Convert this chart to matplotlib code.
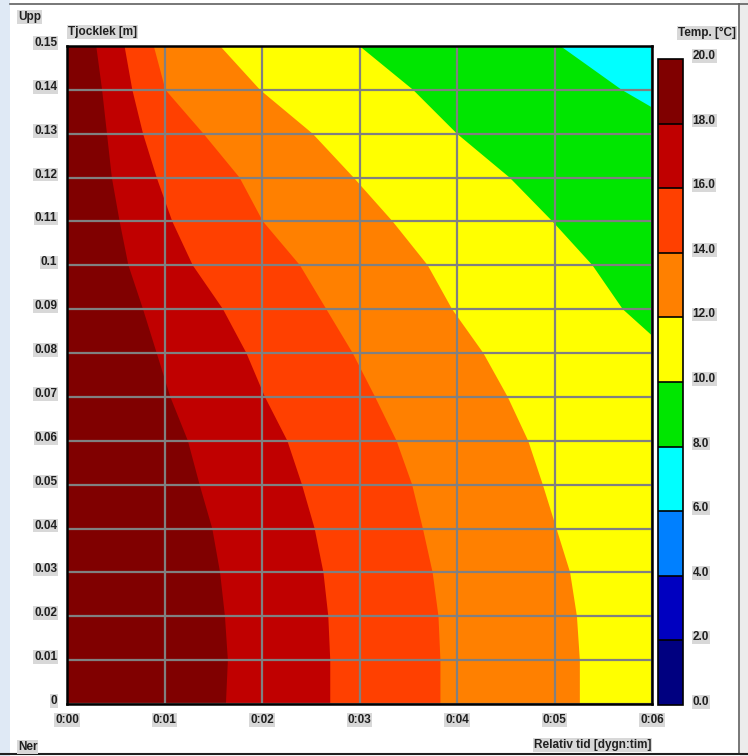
import matplotlib
matplotlib.use("Agg")
import matplotlib.pyplot as plt
import numpy as np
from matplotlib.colors import ListedColormap, BoundaryNorm
from matplotlib.colorbar import ColorbarBase
from matplotlib.patches import Rectangle
from matplotlib.lines import Line2D

# temperature classes of the colour scale, low to high
levels = [0, 2, 4, 6, 8, 10, 12, 14, 16, 18, 20]
colors = ['#000080', '#0000C0', '#0080FF', '#00FFFF', '#00E600',
          '#FFFF00', '#FF8000', '#FF4000', '#C00000', '#800000']

# thickness (m) where isotherms are read, top to bottom
depth = [0.15, 0.14, 0.13, 0.12, 0.11, 0.10, 0.09, 0.08,
         0.07, 0.06, 0.05, 0.04, 0.03, 0.02, 0.01, 0.0]

# isotherm positions in hours (time axis 0:00 - 0:06)
iso18 = [0.30, 0.36, 0.41, 0.46, 0.54, 0.63, 0.78, 0.92,
         1.06, 1.24, 1.36, 1.49, 1.57, 1.62, 1.65, 1.63]
iso16 = [0.59, 0.67, 0.78, 0.92, 1.08, 1.29, 1.60, 1.84,
         2.03, 2.26, 2.41, 2.54, 2.63, 2.68, 2.70, 2.70]
iso14 = [0.89, 1.01, 1.40, 1.77, 2.01, 2.39, 2.66, 2.93,
         3.16, 3.38, 3.54, 3.65, 3.75, 3.81, 3.83, 3.83]
iso12 = [1.57, 1.98, 2.52, 2.94, 3.34, 3.70, 3.95, 4.27,
         4.52, 4.73, 4.88, 5.02, 5.16, 5.23, 5.26, 5.26]
# these two leave the plot on the right edge
iso10_y = [0.15, 0.14, 0.13, 0.12, 0.11, 0.10, 0.09, 0.084]
iso10_x = [3.00, 3.55, 4.00, 4.54, 4.98, 5.39, 5.70, 6.00]
iso8_y = [0.15, 0.14, 0.136]
iso8_x = [5.06, 5.69, 6.00]

xticks = [0, 1, 2, 3, 4, 5, 6]
xlabels = ['0:00', '0:01', '0:02', '0:03', '0:04', '0:05', '0:06']
yticks = [0.0, 0.01, 0.02, 0.03, 0.04, 0.05, 0.06, 0.07,
          0.08, 0.09, 0.10, 0.11, 0.12, 0.13, 0.14, 0.15]
ylabels = ['0', '0.01', '0.02', '0.03', '0.04', '0.05', '0.06', '0.07',
           '0.08', '0.09', '0.1', '0.11', '0.12', '0.13', '0.14', '0.15']

plt.rcParams['font.family'] = ['Liberation Sans', 'DejaVu Sans']
W, H = 748, 756
fig = plt.figure(figsize=(W / 100, H / 100), dpi=100)

cmap = ListedColormap(colors)
norm = BoundaryNorm(levels, cmap.N)

ax = fig.add_axes([67 / W, 1 - 704 / H, 585 / W, 658 / H])
ax.set_xlim(0, 6)
ax.set_ylim(0, 0.15)
ax.set_facecolor(cmap(norm(19)))

# paint "warmer than" regions left to right, each over the previous
isotherms = [(18, iso18, depth), (16, iso16, depth), (14, iso14, depth),
             (12, iso12, depth), (10, iso10_x, iso10_y), (8, iso8_x, iso8_y)]
for lev, xs, ys in isotherms:
    px = list(xs) + [6, 6]
    py = list(ys) + [ys[-1], 0.15]
    ax.fill(px, py, color=cmap(norm(lev - 1)), lw=0, zorder=1)

box = dict(facecolor='#d8d8d8', edgecolor='none', pad=0.6)

ax.set_xticks(xticks)
ax.set_xticklabels(xlabels)
ax.set_yticks(yticks)
ax.set_yticklabels(ylabels)
ax.grid(True, color='#808080', lw=1.6, zorder=2)
ax.set_axisbelow(False)
ax.tick_params(length=0, labelsize=8.5, pad=7)
for lab in ax.get_xticklabels() + ax.get_yticklabels():
    lab.set_fontweight('bold')
    lab.set_color('#202020')
    lab.set_bbox(box)
for lab in ax.get_yticklabels():
    lab.set_va('baseline')
for sp in ax.spines.values():
    sp.set_linewidth(1.8)
    sp.set_color('black')
    sp.set_zorder(3)

cax = fig.add_axes([658 / W, 1 - 705 / H, 25 / W, 646 / H])
cb = ColorbarBase(cax, cmap=cmap, norm=norm, boundaries=levels, ticks=levels,
                  drawedges=True)
cb.set_ticklabels(['%.1f' % v for v in levels])
cb.outline.set_linewidth(1.2)
cb.dividers.set_linewidth(1.2)
cax.tick_params(length=0, labelsize=8.5, pad=7)
for lab in cax.get_yticklabels():
    lab.set_fontweight('bold')
    lab.set_color('#202020')
    lab.set_va('baseline')
    lab.set_bbox(box)

# window frame
fig.patches.append(Rectangle((0, 0), 10 / W, 1, transform=fig.transFigure,
                             facecolor='#dfe9f5', edgecolor='none'))
fig.lines.append(Line2D([10 / W, 1], [1 - 4 / H, 1 - 4 / H],
                        transform=fig.transFigure, color='#606060', lw=1.2))
fig.lines.append(Line2D([739 / W, 739 / W], [1 - 4 / H, 1 - 754 / H],
                        transform=fig.transFigure, color='#606060', lw=1.2))
fig.lines.append(Line2D([0, 1], [1 - 754 / H, 1 - 754 / H],
                        transform=fig.transFigure, color='#202020', lw=1.5))
fig.patches.append(Rectangle((740 / W, 0), 8 / W, 1, transform=fig.transFigure,
                             facecolor='#ececec', edgecolor='none'))

txt = dict(fontsize=8.5, fontweight='bold', color='#202020', bbox=box)
fig.text(18 / W, 1 - 17 / H, 'Upp', ha='left', va='center', **txt)
fig.text(68 / W, 1 - 32 / H, 'Tjocklek [m]', ha='left', va='center', **txt)
fig.text(736 / W, 1 - 33 / H, 'Temp. [°C]', ha='right', va='center', **txt)
fig.text(18 / W, 1 - 747 / H, 'Ner', ha='left', va='center', **txt)
fig.text(651 / W, 1 - 745 / H, 'Relativ tid [dygn:tim]', ha='right',
         va='center', **txt)

fig.savefig('out.png', dpi=100)
